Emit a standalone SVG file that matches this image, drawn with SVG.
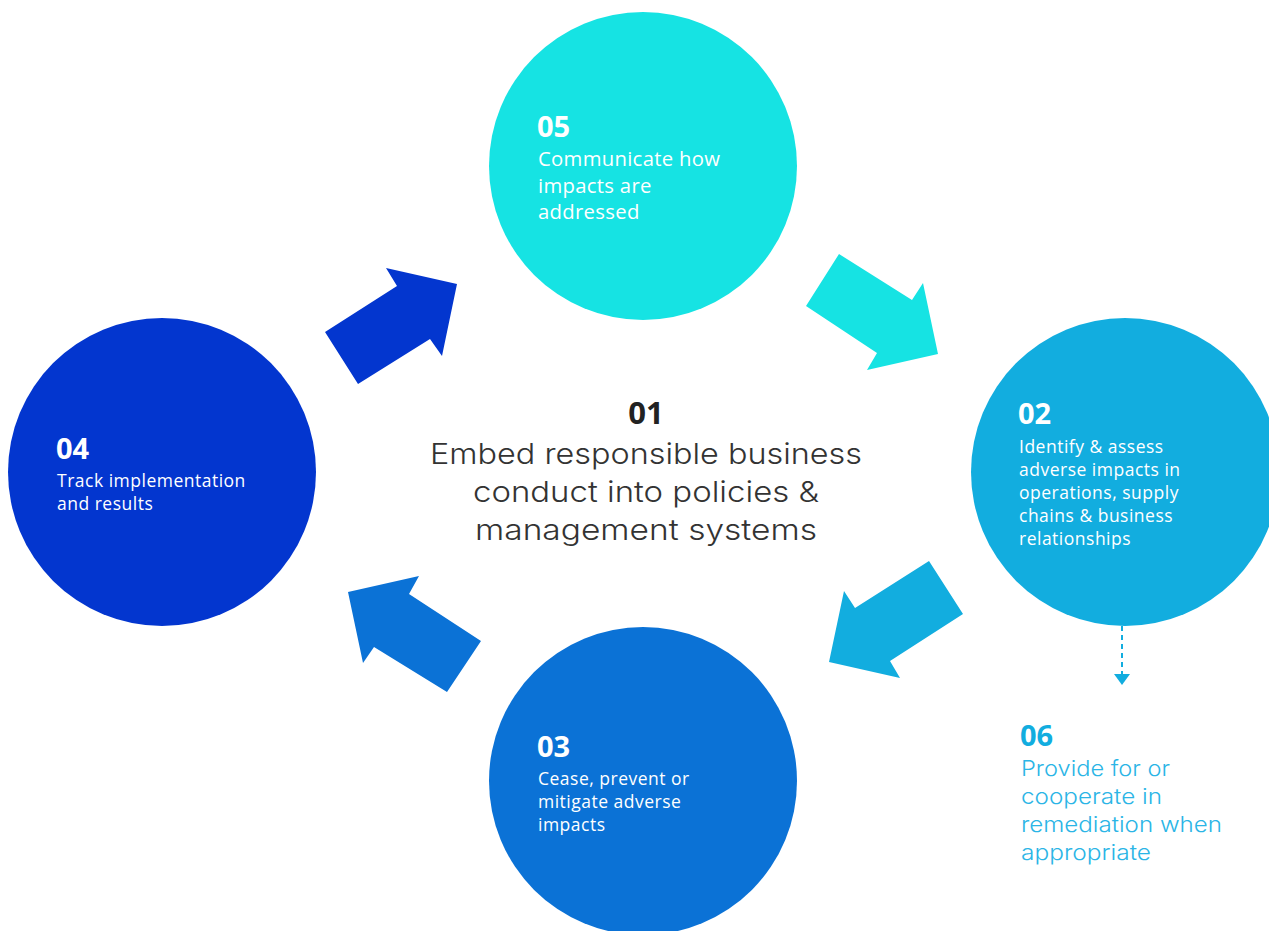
<svg xmlns="http://www.w3.org/2000/svg" width="1269" height="931" viewBox="0 0 1269 931">
  <style>
    .num { font-family: "Open Sans", "Noto Sans", sans-serif; font-weight: 700; font-size: 29px; fill: #ffffff; }
    .body { font-family: "Open Sans", "Noto Sans", sans-serif; font-size: 20.3px; letter-spacing: 0.3px; fill: #ffffff; }
    .body-sm { font-family: "Open Sans", "Noto Sans", sans-serif; font-size: 17.5px; letter-spacing: 0.5px; fill: #ffffff; }
    .center-num { font-family: "Open Sans", "Noto Sans", sans-serif; font-weight: 700; font-size: 31px; fill: #222222; }
    .center { font-family: "Inter", "Lato", sans-serif; font-weight: 300; font-size: 29px; fill: #333333; }
    .side-num { font-family: "Open Sans", "Noto Sans", sans-serif; font-weight: 700; font-size: 29px; fill: #12addf; }
    .side { font-family: "Inter", "Lato", sans-serif; font-weight: 300; font-size: 22px; fill: #2bb5e6; }
  </style>

  <!-- cycle arrows and the dashed link to step 06 -->
  <g id="connectors">
    <polygon points="325,332 358,384 430,339 442,356 457,284 386,268 397,286" fill="#0336cf"/>
    <polygon points="839,254 912,300 923,283 938,354 867,370 877,353 806,306" fill="#16e3e3"/>
    <polygon points="929,561 963,614 890,661 900,678 829,662 844,591 855,608" fill="#12addf"/>
    <polygon points="481,641 447,692 374,647 363,663 348,592 419,576 409,594" fill="#0b72d6"/>
    <line x1="1122" y1="626" x2="1122" y2="674" stroke="#12addf" stroke-width="2" stroke-dasharray="5,4"/>
    <path d="M1114,674 L1130,674 L1122,685 Z" fill="#12addf"/>
  </g>

  <!-- 01 centre -->
  <g id="step01">
    <text class="center-num" x="646" y="424" text-anchor="middle">01</text>
    <text class="center" x="646" y="464" text-anchor="middle" textLength="432" lengthAdjust="spacingAndGlyphs">Embed responsible business</text>
    <text class="center" x="646" y="502" text-anchor="middle" textLength="346" lengthAdjust="spacingAndGlyphs">conduct into policies &amp;</text>
    <text class="center" x="646" y="540" text-anchor="middle" textLength="342" lengthAdjust="spacingAndGlyphs">management systems</text>
  </g>

  <!-- 05 top -->
  <g id="step05">
    <circle cx="643" cy="166" r="154" fill="#16e3e3"/>
    <text class="num" x="537" y="137">05</text>
    <text class="body" x="538" y="166">Communicate how</text>
    <text class="body" x="538" y="193">impacts are</text>
    <text class="body" x="538" y="219">addressed</text>
  </g>

  <!-- 02 right -->
  <g id="step02">
    <circle cx="1125" cy="472" r="154" fill="#12addf"/>
    <text class="num" x="1018" y="424">02</text>
    <text class="body-sm" x="1019" y="453">Identify &amp; assess</text>
    <text class="body-sm" x="1019" y="476">adverse impacts in</text>
    <text class="body-sm" x="1019" y="499">operations, supply</text>
    <text class="body-sm" x="1019" y="522">chains &amp; business</text>
    <text class="body-sm" x="1019" y="545">relationships</text>
  </g>

  <!-- 03 bottom -->
  <g id="step03">
    <circle cx="643" cy="781" r="154" fill="#0b72d6"/>
    <text class="num" x="537" y="757">03</text>
    <text class="body-sm" x="538" y="785">Cease, prevent or</text>
    <text class="body-sm" x="538" y="808">mitigate adverse</text>
    <text class="body-sm" x="538" y="831">impacts</text>
  </g>

  <!-- 04 left -->
  <g id="step04">
    <circle cx="162" cy="472" r="154" fill="#0336cf"/>
    <text class="num" x="56" y="459">04</text>
    <text class="body-sm" x="57" y="487">Track implementation</text>
    <text class="body-sm" x="57" y="510">and results</text>
  </g>

  <!-- 06 remediation -->
  <g id="step06">
    <text class="side-num" x="1020" y="746">06</text>
    <text class="side" x="1021" y="776" textLength="149" lengthAdjust="spacingAndGlyphs">Provide for or</text>
    <text class="side" x="1021" y="804" textLength="141" lengthAdjust="spacingAndGlyphs">cooperate in</text>
    <text class="side" x="1021" y="832" textLength="201" lengthAdjust="spacingAndGlyphs">remediation when</text>
    <text class="side" x="1021" y="860" textLength="130" lengthAdjust="spacingAndGlyphs">appropriate</text>
  </g>
</svg>
